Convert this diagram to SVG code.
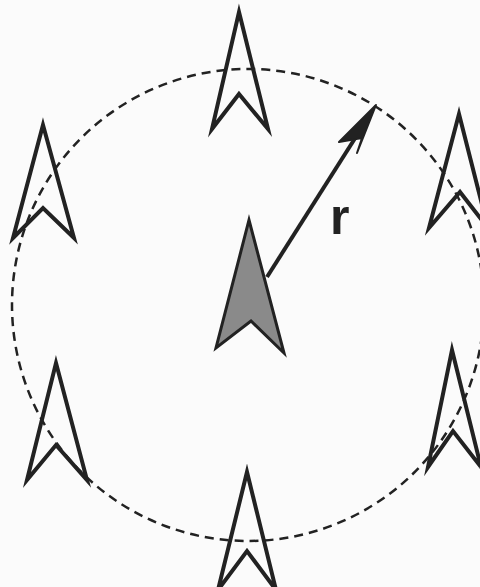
<svg xmlns="http://www.w3.org/2000/svg" width="480" height="587" viewBox="0 0 480 587">
<defs>
<style>
.arr{fill:none;stroke:#222;stroke-width:4;stroke-linejoin:miter;stroke-miterlimit:10}
.ctr{fill:#8a8a8a;stroke:#222;stroke-width:3;stroke-linejoin:miter;stroke-miterlimit:10}
.circ{fill:none;stroke:#222;stroke-width:2.5;stroke-dasharray:9 6}
.lbl{font-family:"Liberation Sans",Arial,sans-serif;font-weight:bold;font-size:50px;fill:#222}
</style>
</defs>
<rect width="480" height="587" fill="#fbfbfb"/>
<g id="connectors">
<circle class="circ" cx="248" cy="305" r="236"/>
<line x1="267" y1="277" x2="366" y2="121" stroke="#222" stroke-width="4"/>
<polygon points="376,105 357,153 362,138 339,142" fill="#222" stroke="#222" stroke-width="2" stroke-linejoin="round"/>
</g>
<g id="arrow-top"><polygon class="arr" points="239,12 268,129 239,94 212,129"/></g>
<g id="arrow-top-left"><polygon class="arr" points="43,125 74,238 43,208 13,238"/></g>
<g id="arrow-top-right"><polygon class="arr" points="459,114 488,228 460,192 429,228"/></g>
<g id="arrow-bottom-left"><polygon class="arr" points="56,363 87,480 56,445 27,480"/></g>
<g id="arrow-bottom-right"><polygon class="arr" points="452,350 481,467 453,431 428,467"/></g>
<g id="arrow-bottom"><polygon class="arr" points="247,472 276,590 247,551 218,590"/></g>
<g id="arrow-center"><polygon class="ctr" points="249,220 284,353 251,321 216,348"/></g>
<g id="label-r"><text class="lbl" x="330" y="234">r</text></g>
</svg>
